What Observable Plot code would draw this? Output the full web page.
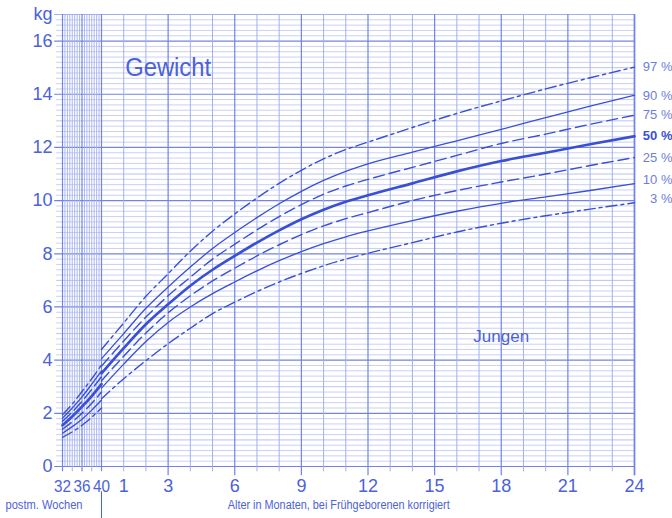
<!DOCTYPE html>
<html><head><meta charset="utf-8">
<script src="https://cdn.jsdelivr.net/npm/d3@7"></script>
<script src="https://cdn.jsdelivr.net/npm/@observablehq/plot@0.6"></script>
<style>body{margin:0;background:#fff} svg{display:block}</style>
</head><body><div id="chart"></div>
<script>
// ---- data ----
const pctLabels = ["97 %","90 %","75 %","50 %","25 %","10 %","3 %"];
const months = [0,1,2,3,4,5,6,7,8,9,10,11,12,14,16,18,20,22,24];
const month97 = [4.4,5.4,6.4,7.25,8.1,8.85,9.5,10.1,10.65,11.14,11.57,11.92,12.2,12.75,13.28,13.75,14.2,14.62,15.02];
const month90 = [4.05,5.0,5.95,6.75,7.5,8.2,8.8,9.36,9.88,10.35,10.76,11.1,11.38,11.82,12.25,12.68,13.12,13.55,13.96];
const month75 = [3.78,4.72,5.62,6.42,7.12,7.8,8.36,8.9,9.4,9.85,10.24,10.55,10.8,11.25,11.7,12.15,12.5,12.87,13.21];
const month50 = [3.5,4.45,5.35,6.1,6.8,7.4,7.92,8.42,8.88,9.3,9.66,9.96,10.2,10.65,11.1,11.49,11.8,12.12,12.42];
const month25 = [3.22,4.15,5.02,5.78,6.42,6.98,7.46,7.92,8.34,8.72,9.05,9.32,9.55,10.0,10.38,10.7,11.0,11.32,11.62];
const month10 = [2.95,3.85,4.7,5.42,6.0,6.5,6.94,7.36,7.74,8.08,8.38,8.64,8.86,9.25,9.6,9.9,10.14,10.38,10.64];
const month3  = [2.55,3.3,3.98,4.62,5.2,5.75,6.18,6.58,6.94,7.26,7.55,7.8,8.02,8.42,8.82,9.15,9.43,9.68,9.92];
const weeks = [32,34,36,38,40];
const week97 = [1.95,2.35,2.82,3.3,3.82];
const week90 = [1.82,2.2,2.62,3.1,3.6];
const week75 = [1.7,2.05,2.45,2.9,3.38];
const week50 = [1.55,1.88,2.25,2.65,3.1];
const week25 = [1.4,1.68,2.0,2.38,2.8];
const week10 = [1.25,1.5,1.78,2.12,2.5];
const week3  = [1.1,1.3,1.55,1.85,2.2];
const monthTickLabels = [1,3,6,9,12,15,18,21,24];
const weekTickLabels = [32,36,40];
const kgTickLabels = [0,2,4,6,8,10,12,14,16];

// ---- axis unit: months after term; postmenstrual weeks are drawn compressed before month 0 ----
const WK = (39 / 8) / (533 / 24);          // width of one week in month units on this chart
const wk = w => (w - 40) * WK;             // postmenstrual week -> x position unit

// ---- styles ----
const ink = "#3a50d4";
const labelColor = "#4c62da";
const gridLight = "#cad0f6";
const gridMid = "#bac3f3";
const gridV = "#a3aff0";
const gridDark = "#7283e3";
const font = "'Liberation Sans', Arial, Helvetica, sans-serif";
const lineStyle = {
  "97 %": {dash: "11,4,3,4", w: 1.4},
  "90 %": {dash: null, w: 1.3},
  "75 %": {dash: "11,5", w: 1.4},
  "50 %": {dash: null, w: 2.7},
  "25 %": {dash: "11,5", w: 1.4},
  "10 %": {dash: null, w: 1.3},
  "3 %":  {dash: "11,4,3,4", w: 1.4}
};
const shiftedLabels = ["10 %", "3 %"];

const monthSeries = [month97, month90, month75, month50, month25, month10, month3];
const weekSeries = [week97, week90, week75, week50, week25, week10, week3];

const rows = [];
pctLabels.forEach((p, i) => {
  months.forEach((m, j) => rows.push({p, seg: "m", x: m, kg: monthSeries[i][j]}));
  weeks.forEach((w, j) => rows.push({p, seg: "w", x: wk(w), kg: weekSeries[i][j]}));
});
const ends = pctLabels.map((p, i) => ({p, x: 24, kg: monthSeries[i][monthSeries[i].length - 1]}));

// grid positions
const kgGrid = d3.range(0, 86).map(i => ({v: i * 0.2, k: i % 10 === 0 ? 2 : (i % 5 === 0 ? 1 : 0)}));
const weekGrid = d3.range(0, 17).map(i => ({v: wk(32 + i * 0.5), k: (i % 8 === 0) ? 1 : 0}));
const monthGrid = d3.range(1, 25).map(m => ({v: m, k: m % 3 === 0 ? 1 : 0}));

const curveMarks = pctLabels.map(p => Plot.line(rows.filter(r => r.p === p), {
  x: "x", y: "kg", z: "seg", curve: "monotone-x",
  stroke: ink, strokeWidth: lineStyle[p].w,
  strokeDasharray: lineStyle[p].dash || undefined
}));

const labelOpts = {x: "x", y: "kg", text: "p", dx: 38, textAnchor: "end", fontSize: 13};

const chart = Plot.plot({
  width: 672, height: 518,
  x: {domain: [wk(32), 24], range: [62, 634], axis: null},
  y: {domain: [0, 17], range: [466, 14], axis: null},
  style: {fontFamily: font, background: "white", overflow: "hidden"},
  marks: [
    // horizontal grid
    Plot.ruleY(kgGrid.filter(d => d.k === 0), {y: "v", x1: wk(30.8), x2: 24, stroke: gridLight, strokeWidth: 1}),
    Plot.ruleY(kgGrid.filter(d => d.k === 1), {y: "v", x1: wk(30.8), x2: 24, stroke: gridMid, strokeWidth: 1}),
    Plot.ruleY(kgGrid.filter(d => d.k === 2), {y: "v", x1: wk(30.4), x2: 24, stroke: gridDark, strokeWidth: 1.2}),
    Plot.ruleY([17], {x1: wk(30.4), x2: 24, stroke: gridV, strokeWidth: 1}),
    // vertical grid: weeks
    Plot.ruleX(weekGrid.filter(d => d.k === 0), {x: "v", y1: 0, y2: 17, stroke: gridV, strokeWidth: 0.9}),
    Plot.ruleX(weekGrid.filter(d => d.k === 1), {x: "v", y1: -0.2, y2: 17, stroke: gridDark, strokeWidth: 1.2}),
    Plot.ruleX([wk(34), wk(36), wk(38)], {y1: -0.2, y2: 0, stroke: gridV}),
    // vertical grid: months
    Plot.ruleX(monthGrid.filter(d => d.k === 0), {x: "v", y1: -0.2, y2: 17, stroke: gridV, strokeWidth: 1}),
    Plot.ruleX(monthGrid.filter(d => d.k === 1), {x: "v", y1: -0.35, y2: 17, stroke: gridDark, strokeWidth: 1.2}),
    Plot.ruleX([24], {y1: -0.35, y2: 17, stroke: gridDark, strokeWidth: 1.6}),
    // separator below axis
    Plot.ruleX([0], {y1: -0.95, y2: -2.1, stroke: labelColor, strokeWidth: 1}),
    // curves
    ...curveMarks,
    // texts
    Plot.text(["Gewicht"], {x: 3, y: 15, text: d => d, fontSize: 26, fill: labelColor}),
    Plot.text(["Jungen"], {x: 18, y: 4.9, text: d => d, fontSize: 17, fill: labelColor}),
    Plot.text(kgTickLabels, {x: wk(32), y: d => d, text: d => String(d), dx: -10, textAnchor: "end", fontSize: 18, fill: labelColor}),
    Plot.text(["kg"], {x: wk(32), y: 17, text: d => d, dx: -10, textAnchor: "end", fontSize: 18, fill: labelColor}),
    Plot.text(monthTickLabels, {x: d => d, y: 0, text: d => String(d), dy: 20, fontSize: 18, fill: labelColor}),
    Plot.text(weekTickLabels, {x: d => wk(d), y: 0, text: d => String(d), dy: 20, fontSize: 17, fill: labelColor}),
    Plot.text(["postm. Wochen"], {x: wk(32), y: 0, text: d => d, dx: -57, dy: 39, textAnchor: "start", fontSize: 12, fill: labelColor}),
    Plot.text(["Alter in Monaten, bei Frühgeborenen korrigiert"], {x: 6, y: 0, text: d => d, dx: -7, dy: 39, textAnchor: "start", fontSize: 12, fill: labelColor}),
    // percentile labels at the right
    Plot.text(ends.filter(d => d.p !== "50 %" && !shiftedLabels.includes(d.p)), {...labelOpts, fill: "#6b7ee0"}),
    Plot.text(ends.filter(d => shiftedLabels.includes(d.p)), {...labelOpts, dy: -3.5, fill: "#6b7ee0"}),
    Plot.text(ends.filter(d => d.p === "50 %"), {...labelOpts, fill: ink, fontWeight: "bold"})
  ]
});
document.getElementById("chart").appendChild(chart);

// condense / box certain texts
const fit = {"Gewicht": 86, "postm. Wochen": 77, "Alter in Monaten, bei Frühgeborenen korrigiert": 222, "32": 17, "36": 17, "40": 17};
d3.select(chart).selectAll("text").each(function() {
  const t = this.textContent;
  if (fit[t]) { this.setAttribute("textLength", fit[t]); this.setAttribute("lengthAdjust", "spacingAndGlyphs"); }
  if (t === "Gewicht" || t === "Jungen") {
    const b = this.getBBox();
    const pad = 4;
    const r = document.createElementNS("http://www.w3.org/2000/svg", "rect");
    r.setAttribute("x", b.x - pad); r.setAttribute("y", b.y - 1);
    r.setAttribute("width", b.width + 2 * pad); r.setAttribute("height", b.height + 2);
    r.setAttribute("fill", "white");
    this.parentNode.insertBefore(r, this);
  }
});
</script>
</body></html>
